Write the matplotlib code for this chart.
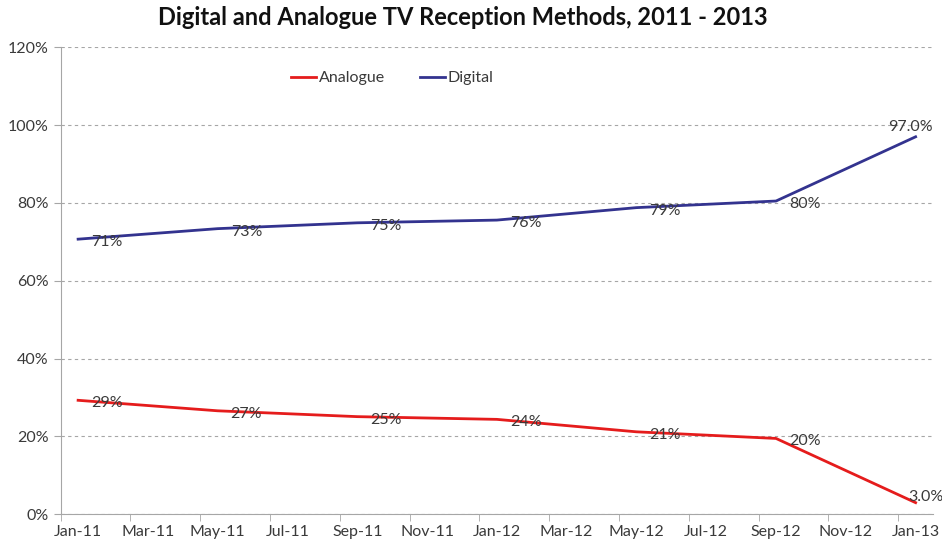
import matplotlib
matplotlib.use("Agg")
import matplotlib.pyplot as plt

plt.rcParams['font.family'] = ['Lato', 'DejaVu Sans']

# months since Jan-11 for each survey point
months = [0, 4, 8, 12, 16, 20, 24]
analogue = [29.3, 26.6, 25.1, 24.4, 21.2, 19.5, 3.0]
digital = [70.7, 73.4, 74.9, 75.6, 78.8, 80.5, 97.0]
tick_labels = ['Jan-11', 'Mar-11', 'May-11', 'Jul-11', 'Sep-11', 'Nov-11', 'Jan-12',
               'Mar-12', 'May-12', 'Jul-12', 'Sep-12', 'Nov-12', 'Jan-13']

red = '#e51c1c'
blue = '#33338f'
grey_txt = '#3a3a3a'
fs = 11.5

fig = plt.figure(figsize=(9.42, 5.46), dpi=100)
ax = fig.add_axes([0.0644, 0.058, 0.9261, 0.8554])

ax.plot(months, analogue, color=red, lw=2.0, label='Analogue')
ax.plot(months, digital, color=blue, lw=2.0, label='Digital')

def label_points(vals):
    for i, (m, v) in enumerate(zip(months, vals)):
        if i == len(vals) - 1:
            txt = '{:.1f}%'.format(v)
            off = (-5, 10) if v > 50 else (10, 6)
            ax.annotate(txt, (m, v), textcoords='offset pixels', xytext=off,
                        ha='center', va='center', fontsize=fs, color=grey_txt,
                        annotation_clip=False)
        else:
            txt = '{:.0f}%'.format(v)
            ax.annotate(txt, (m, v), textcoords='offset pixels', xytext=(13, -3),
                        ha='left', va='center', fontsize=fs, color=grey_txt)

label_points(analogue)
label_points(digital)

ax.set_xlim(-0.5, 24.5)
ax.set_ylim(0, 120)
ax.set_xticks(range(0, 25, 2))
ax.set_xticklabels(tick_labels)
ax.set_xticks([x - 0.5 for x in range(0, 26, 2)], minor=True)
ax.tick_params(axis='x', which='major', length=0, pad=8, labelsize=fs, labelcolor=grey_txt)
ax.tick_params(axis='x', which='minor', length=5, color='#a6a6a6')
ax.set_yticks(range(0, 121, 20))
ax.set_yticklabels(['{}%'.format(v) for v in range(0, 121, 20)])
ax.tick_params(axis='y', length=5, color='#a6a6a6', labelsize=fs, labelcolor=grey_txt)

ax.grid(axis='y', color='#a6a6a6', linestyle=(0, (3, 3)), lw=0.8)
ax.set_axisbelow(True)
for s in ['top', 'right']:
    ax.spines[s].set_visible(False)
for s in ['left', 'bottom']:
    ax.spines[s].set_color('#a6a6a6')

ax.legend(loc='center', bbox_to_anchor=(0.38, 0.934), ncol=2, frameon=False,
          fontsize=fs, handlelength=1.6, handletextpad=0.15, columnspacing=2.2,
          labelcolor=grey_txt)

fig.text(0.491, 0.968, 'Digital and Analogue TV Reception Methods, 2011 - 2013',
         ha='center', va='center', fontsize=17, fontweight='bold', color='#111111')

fig.savefig('out.png', dpi=100)
